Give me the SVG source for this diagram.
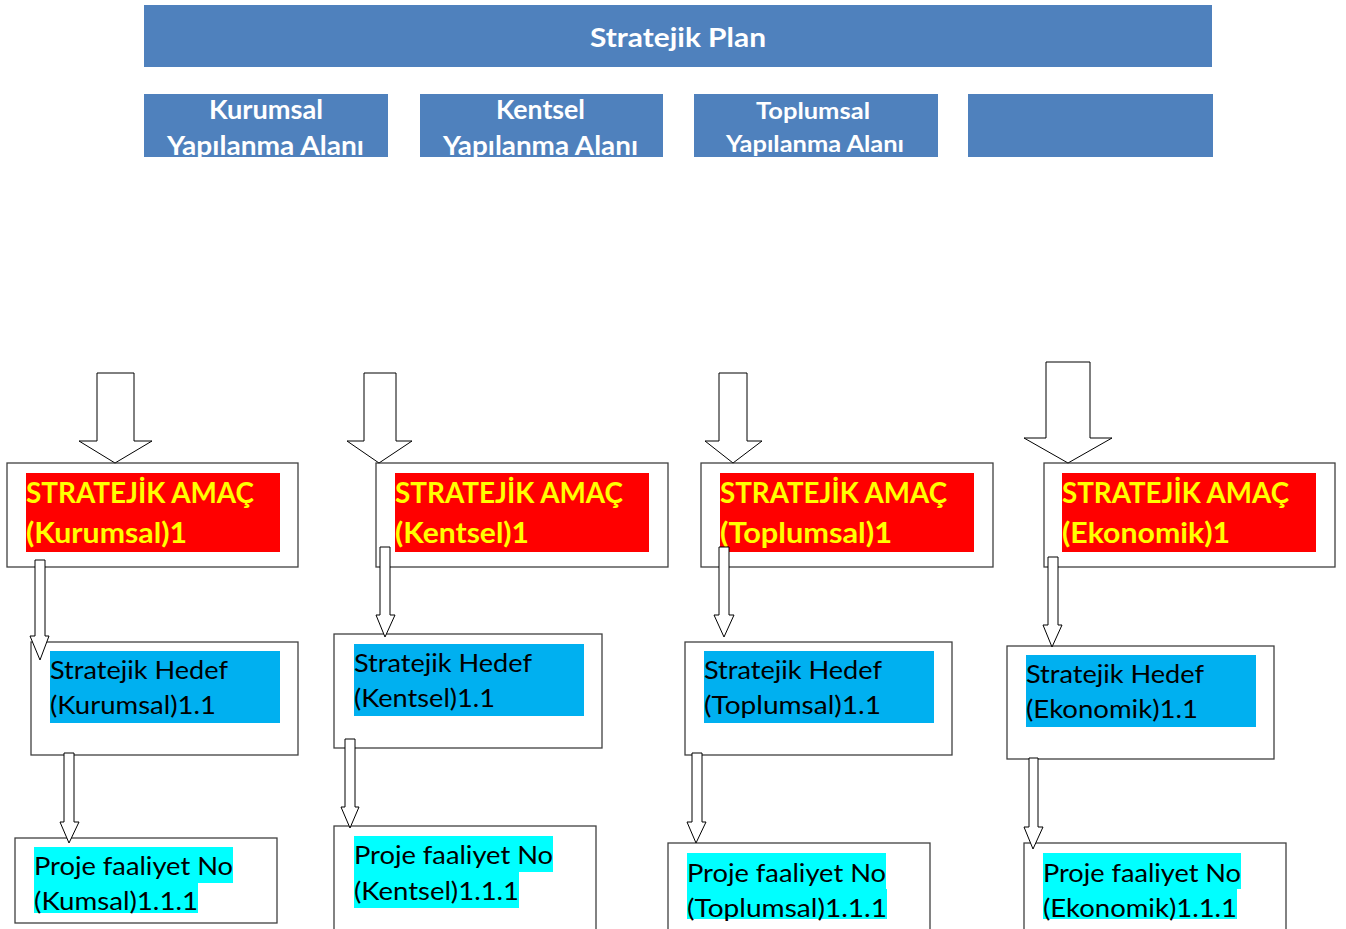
<svg xmlns="http://www.w3.org/2000/svg" width="1346" height="929" viewBox="0 0 1346 929">
<style>
.band{fill:#4F81BD}
.bt{font-family:Lato,"Open Sans",sans-serif;font-weight:bold;fill:#FFFFFF}
.box{fill:#FFFFFF;stroke:#404040;stroke-width:1.3}
.red{fill:#FF0000}
.blue{fill:#00B0F0}
.cyan{fill:#00FFFF}
.amac{font-family:Lato,"Open Sans",sans-serif;font-weight:bold;font-size:28px;fill:#FFFF00}
.tx{font-family:Lato,"Open Sans",sans-serif;font-size:25px;fill:#000000}
.arr{fill:#FFFFFF;stroke:#000000;stroke-width:1}
</style>
<defs>
<clipPath id="c1"><rect x="144" y="94" width="244" height="63"/></clipPath>
<clipPath id="c2"><rect x="420" y="94" width="243" height="63"/></clipPath>
<clipPath id="c3"><rect x="694" y="94" width="244" height="63"/></clipPath>
</defs>
<g id="plan">
<rect class="band" x="144" y="5" width="1068" height="62"/>
<text class="bt" x="590" y="47" font-size="27" textLength="176" lengthAdjust="spacingAndGlyphs">Stratejik Plan</text>
</g>
<g id="alan-kurumsal" clip-path="url(#c1)">
<rect class="band" x="144" y="94" width="244" height="63"/>
<text class="bt" x="209" y="119" font-size="26" textLength="114" lengthAdjust="spacingAndGlyphs">Kurumsal</text>
<text class="bt" x="167" y="155" font-size="26" textLength="197" lengthAdjust="spacingAndGlyphs">Yapılanma Alanı</text>
</g>
<g id="alan-kentsel" clip-path="url(#c2)">
<rect class="band" x="420" y="94" width="243" height="63"/>
<text class="bt" x="496" y="119" font-size="26" textLength="89" lengthAdjust="spacingAndGlyphs">Kentsel</text>
<text class="bt" x="443" y="155" font-size="26" textLength="195" lengthAdjust="spacingAndGlyphs">Yapılanma Alanı</text>
</g>
<g id="alan-toplumsal" clip-path="url(#c3)">
<rect class="band" x="694" y="94" width="244" height="63"/>
<text class="bt" x="756" y="119" font-size="23" textLength="114" lengthAdjust="spacingAndGlyphs">Toplumsal</text>
<text class="bt" x="726" y="152" font-size="23" textLength="178" lengthAdjust="spacingAndGlyphs">Yapılanma Alanı</text>
</g>
<g id="alan-bos">
<rect class="band" x="968" y="94" width="245" height="63"/>
</g>

<g id="amac-kurumsal">
<rect class="box" x="7" y="463" width="291" height="104"/>
<rect class="red" x="26" y="473" width="254" height="79"/>
<text class="amac" x="26" y="503" textLength="228" lengthAdjust="spacingAndGlyphs">STRATEJİK AMAÇ</text>
<text class="amac" x="26" y="543" textLength="161" lengthAdjust="spacingAndGlyphs">(Kurumsal)1</text>
</g>
<g id="amac-kentsel">
<rect class="box" x="376" y="463" width="292" height="104"/>
<rect class="red" x="395" y="473" width="254" height="79"/>
<text class="amac" x="395" y="503" textLength="228" lengthAdjust="spacingAndGlyphs">STRATEJİK AMAÇ</text>
<text class="amac" x="395" y="543" textLength="134" lengthAdjust="spacingAndGlyphs">(Kentsel)1</text>
</g>
<g id="amac-toplumsal">
<rect class="box" x="701" y="463" width="292" height="104"/>
<rect class="red" x="720" y="473" width="254" height="79"/>
<text class="amac" x="720" y="503" textLength="227" lengthAdjust="spacingAndGlyphs">STRATEJİK AMAÇ</text>
<text class="amac" x="720" y="543" textLength="172" lengthAdjust="spacingAndGlyphs">(Toplumsal)1</text>
</g>
<g id="amac-ekonomik">
<rect class="box" x="1044" y="463" width="291" height="104"/>
<rect class="red" x="1062" y="473" width="254" height="79"/>
<text class="amac" x="1062" y="503" textLength="227" lengthAdjust="spacingAndGlyphs">STRATEJİK AMAÇ</text>
<text class="amac" x="1062" y="543" textLength="168" lengthAdjust="spacingAndGlyphs">(Ekonomik)1</text>
</g>

<g id="hedef-kurumsal">
<rect class="box" x="31" y="642" width="267" height="113"/>
<rect class="blue" x="50" y="651" width="230" height="72"/>
<text class="tx" x="50" y="679" textLength="178" lengthAdjust="spacingAndGlyphs">Stratejik Hedef</text>
<text class="tx" x="50" y="714" textLength="166" lengthAdjust="spacingAndGlyphs">(Kurumsal)1.1</text>
</g>
<g id="hedef-kentsel">
<rect class="box" x="334" y="634" width="268" height="114"/>
<rect class="blue" x="354" y="644" width="230" height="72"/>
<text class="tx" x="354" y="672" textLength="178" lengthAdjust="spacingAndGlyphs">Stratejik Hedef</text>
<text class="tx" x="354" y="707" textLength="141" lengthAdjust="spacingAndGlyphs">(Kentsel)1.1</text>
</g>
<g id="hedef-toplumsal">
<rect class="box" x="685" y="642" width="267" height="113"/>
<rect class="blue" x="704" y="651" width="230" height="72"/>
<text class="tx" x="704" y="679" textLength="178" lengthAdjust="spacingAndGlyphs">Stratejik Hedef</text>
<text class="tx" x="704" y="714" textLength="177" lengthAdjust="spacingAndGlyphs">(Toplumsal)1.1</text>
</g>
<g id="hedef-ekonomik">
<rect class="box" x="1007" y="646" width="267" height="113"/>
<rect class="blue" x="1026" y="655" width="230" height="72"/>
<text class="tx" x="1026" y="683" textLength="178" lengthAdjust="spacingAndGlyphs">Stratejik Hedef</text>
<text class="tx" x="1026" y="718" textLength="172" lengthAdjust="spacingAndGlyphs">(Ekonomik)1.1</text>
</g>

<g id="proje-kurumsal">
<rect class="box" x="15" y="838" width="262" height="85"/>
<rect class="cyan" x="34" y="847" width="199" height="36"/>
<rect class="cyan" x="34" y="883" width="164" height="30"/>
<text class="tx" x="34" y="875" textLength="199" lengthAdjust="spacingAndGlyphs">Proje faaliyet No</text>
<text class="tx" x="34" y="910" textLength="164" lengthAdjust="spacingAndGlyphs">(Kumsal)1.1.1</text>
</g>
<g id="proje-kentsel">
<rect class="box" x="334" y="826" width="262" height="110"/>
<rect class="cyan" x="354" y="836" width="199" height="36"/>
<rect class="cyan" x="354" y="872" width="165" height="36"/>
<text class="tx" x="354" y="864" textLength="199" lengthAdjust="spacingAndGlyphs">Proje faaliyet No</text>
<text class="tx" x="354" y="900" textLength="165" lengthAdjust="spacingAndGlyphs">(Kentsel)1.1.1</text>
</g>
<g id="proje-toplumsal">
<rect class="box" x="668" y="843" width="262" height="95"/>
<rect class="cyan" x="687" y="853" width="199" height="36"/>
<rect class="cyan" x="687" y="889" width="200" height="30"/>
<text class="tx" x="687" y="882" textLength="199" lengthAdjust="spacingAndGlyphs">Proje faaliyet No</text>
<text class="tx" x="687" y="917" textLength="200" lengthAdjust="spacingAndGlyphs">(Toplumsal)1.1.1</text>
</g>
<g id="proje-ekonomik">
<rect class="box" x="1024" y="843" width="262" height="95"/>
<rect class="cyan" x="1043" y="853" width="198" height="36"/>
<rect class="cyan" x="1043" y="889" width="194" height="30"/>
<text class="tx" x="1043" y="882" textLength="198" lengthAdjust="spacingAndGlyphs">Proje faaliyet No</text>
<text class="tx" x="1043" y="917" textLength="194" lengthAdjust="spacingAndGlyphs">(Ekonomik)1.1.1</text>
</g>

<g id="connectors">
<path class="arr" d="M97,373 H134 V441 H152 L115,463 L79,441 H97 Z"/>
<path class="arr" d="M364,373 H396 V441 H412 L379,463 L347,441 H364 Z"/>
<path class="arr" d="M719,373 H747 V441 H762 L733,463 L705,441 H719 Z"/>
<path class="arr" d="M1046,362 H1090 V438 H1112 L1068,463 L1024,438 H1046 Z"/>

<path class="arr" d="M35,560 H45 V636 H49 L40,660 L30,636 H35 Z"/>
<path class="arr" d="M380,547 H390 V615 H395 L385,637 L376,615 H380 Z"/>
<path class="arr" d="M719,547 H729 V615 H734 L724,637 L714,615 H719 Z"/>
<path class="arr" d="M1048,557 H1058 V625 H1062 L1052,647 L1043,625 H1048 Z"/>

<path class="arr" d="M64,753 H74 V822 H79 L69,843 L60,822 H64 Z"/>
<path class="arr" d="M345,739 H355 V807 H359 L350,828 L341,807 H345 Z"/>
<path class="arr" d="M692,753 H702 V822 H706 L696,843 L687,822 H692 Z"/>
<path class="arr" d="M1029,758 H1038 V827 H1043 L1033,849 L1024,827 H1029 Z"/>
</g>
</svg>
